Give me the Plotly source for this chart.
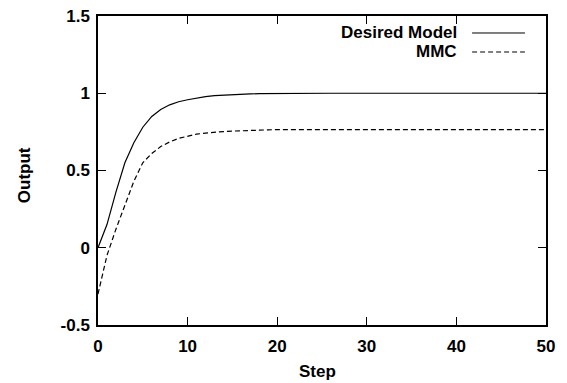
import plotly.graph_objects as go

steps = list(range(0, 51))
desired = [0.0, 0.15, 0.36, 0.55, 0.68, 0.78, 0.85, 0.895, 0.925, 0.945, 0.958,
           0.97, 0.978, 0.984, 0.988, 0.991, 0.994, 0.996, 0.997, 0.998, 0.999] + [1.0] * 30
mmc = [-0.30, -0.05, 0.12, 0.28, 0.43, 0.55, 0.61, 0.655, 0.685, 0.708, 0.724,
       0.735, 0.742, 0.748, 0.752, 0.755, 0.758, 0.760, 0.762, 0.763] + [0.765] * 31
x_ticks = [0, 10, 20, 30, 40, 50]
y_ticks = [-0.5, 0, 0.5, 1, 1.5]
y_tick_text = ["-0.5", "0", "0.5", "1", "1.5"]
series_names = ["Desired Model", "MMC"]
x_title = "Step"
y_title = "Output"

FONT = "Liberation Sans, Arial, sans-serif"
FS = 17
bold = dict(family=FONT, size=FS, color="black", weight="bold")

fig = go.Figure()
fig.add_trace(go.Scatter(x=steps, y=desired, mode="lines", name=series_names[0],
                         line=dict(color="black", width=1.2), showlegend=False))
fig.add_trace(go.Scatter(x=steps, y=mmc, mode="lines", name=series_names[1],
                         line=dict(color="black", width=1.2, dash="5px,3px"), showlegend=False))

axis_common = dict(showgrid=False, zeroline=False, showline=True, linecolor="black",
                   linewidth=1.5, mirror="ticks", ticks="inside", ticklen=8,
                   tickwidth=1, tickcolor="black", tickfont=bold, automargin=False)

fig.update_xaxes(range=[0, 50], tickvals=x_ticks, ticklabelstandoff=5, **axis_common)
fig.update_yaxes(range=[-0.5, 1.5], tickvals=y_ticks, ticktext=y_tick_text,
                 ticklabelstandoff=3, **axis_common)

# axis titles
fig.add_annotation(xref="paper", yref="paper", x=0.489, y=-0.152, text=x_title,
                   showarrow=False, xanchor="center", yanchor="middle", font=bold)
fig.add_annotation(xref="paper", yref="paper", x=-0.165, y=0.485, text=y_title,
                   showarrow=False, xanchor="center", yanchor="middle", textangle=-90, font=bold)

# legend (text right-aligned, sample line to the right)
leg_y = [0.945, 0.8835]
dashes = ["solid", "5px,3px"]
for name, yy, d in zip(series_names, leg_y, dashes):
    fig.add_annotation(xref="paper", yref="paper", x=0.806, y=yy, text=name,
                       showarrow=False, xanchor="right", yanchor="middle", font=bold)
    fig.add_shape(type="line", xref="paper", yref="paper", x0=0.835, x1=0.953, y0=yy, y1=yy,
                  line=dict(color="black", width=1, dash=d))

fig.update_layout(width=567, height=383, margin=dict(l=98, r=21, t=16, b=58),
                  plot_bgcolor="white", paper_bgcolor="white",
                  font=dict(family=FONT, color="black"))
fig.write_html("out.html")
